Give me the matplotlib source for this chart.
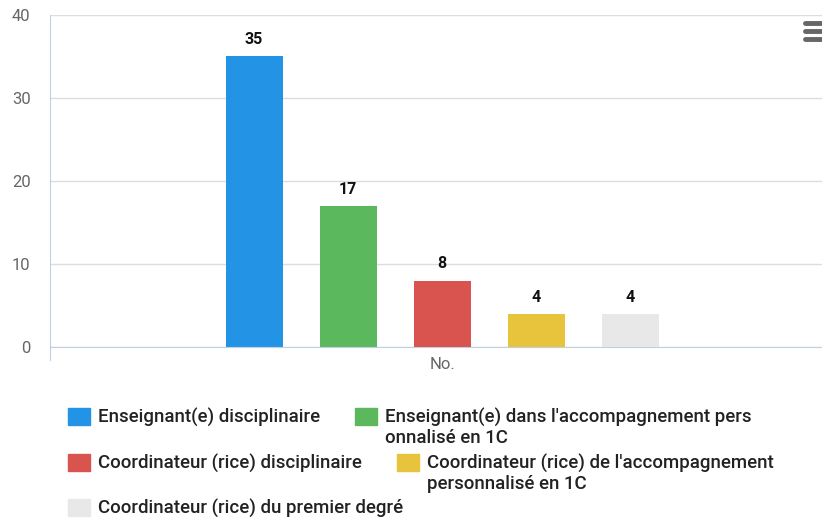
import matplotlib
matplotlib.use("Agg")
import matplotlib.pyplot as plt
from matplotlib.patches import Rectangle
from matplotlib.lines import Line2D

categories = ["No."]
series_names = [
    "Enseignant(e) disciplinaire",
    "Enseignant(e) dans l'accompagnement pers\nonnalisé en 1C",
    "Coordinateur (rice) disciplinaire",
    "Coordinateur (rice) de l'accompagnement\npersonnalisé en 1C",
    "Coordinateur (rice) du premier degré",
]
series_values = [35, 17, 8, 4, 4]
colors = ["#2393E5", "#5CB85C", "#D9534F", "#E8C43C", "#E8E8E8"]
yticks = [0, 10, 20, 30, 40]

W, H = 822, 518
fig = plt.figure(figsize=(W / 100, H / 100), dpi=100)
plt.rcParams['font.family'] = ['Roboto', 'DejaVu Sans']

ax_left, ax_right, ax_top, ax_bottom = 50, 834, 15, 347
ax = fig.add_axes([ax_left / W, 1 - ax_bottom / H, (ax_right - ax_left) / W, (ax_bottom - ax_top) / H])
ax.set_xlim(-0.5, 0.5)
ax.set_ylim(0, 40)

span = ax_right - ax_left
step = 94 / span
width = 57 / span
n = len(series_values)
for i, (v, c) in enumerate(zip(series_values, colors)):
    x = (i - (n - 1) / 2) * step
    ax.bar(x, v, width=width, color=c, zorder=3)
    ax.text(x, v + 1.1, str(v), ha="center", va="bottom", fontsize=11.5, fontweight="bold", color="#111111", zorder=4)

ax.set_yticks(yticks)
ax.set_yticklabels([str(t) for t in yticks], fontsize=12, color="#666666")
ax.tick_params(axis="y", length=0, pad=14)
ax.set_xticks([0])
ax.set_xticklabels(categories, fontsize=12, color="#666666")
ax.tick_params(axis="x", length=0, pad=7)
ax.grid(axis="y", color="#DDDDDD", linewidth=1, zorder=0)
for s in ["top", "right"]:
    ax.spines[s].set_visible(False)
ax.spines["bottom"].set_color("#C0D0E0")
ax.spines["left"].set_color("#C0D0E0")
ax.spines["left"].set_bounds(-1.6, 40)
ax.spines["bottom"].set_zorder(5)

for yy in [23, 31, 39]:
    fig.add_artist(Line2D([805 / W, 822 / W], [1 - yy / H, 1 - yy / H], color="#666666", linewidth=3.5, solid_capstyle="round"))

legend_pos = [(68, 417), (355, 417), (68, 463), (397, 463), (68, 508)]
for (lx, ly), name, c in zip(legend_pos, series_names, colors):
    fig.add_artist(Rectangle((lx / W, 1 - (ly + 8) / H), 22 / W, 17 / H, color=c, transform=fig.transFigure))
    fig.text((lx + 30) / W, 1 - (ly - 9) / H, name, fontsize=13.4, fontweight="medium", color="#222222",
             ha="left", va="top", linespacing=1.17)

fig.savefig("out.png", dpi=100)
